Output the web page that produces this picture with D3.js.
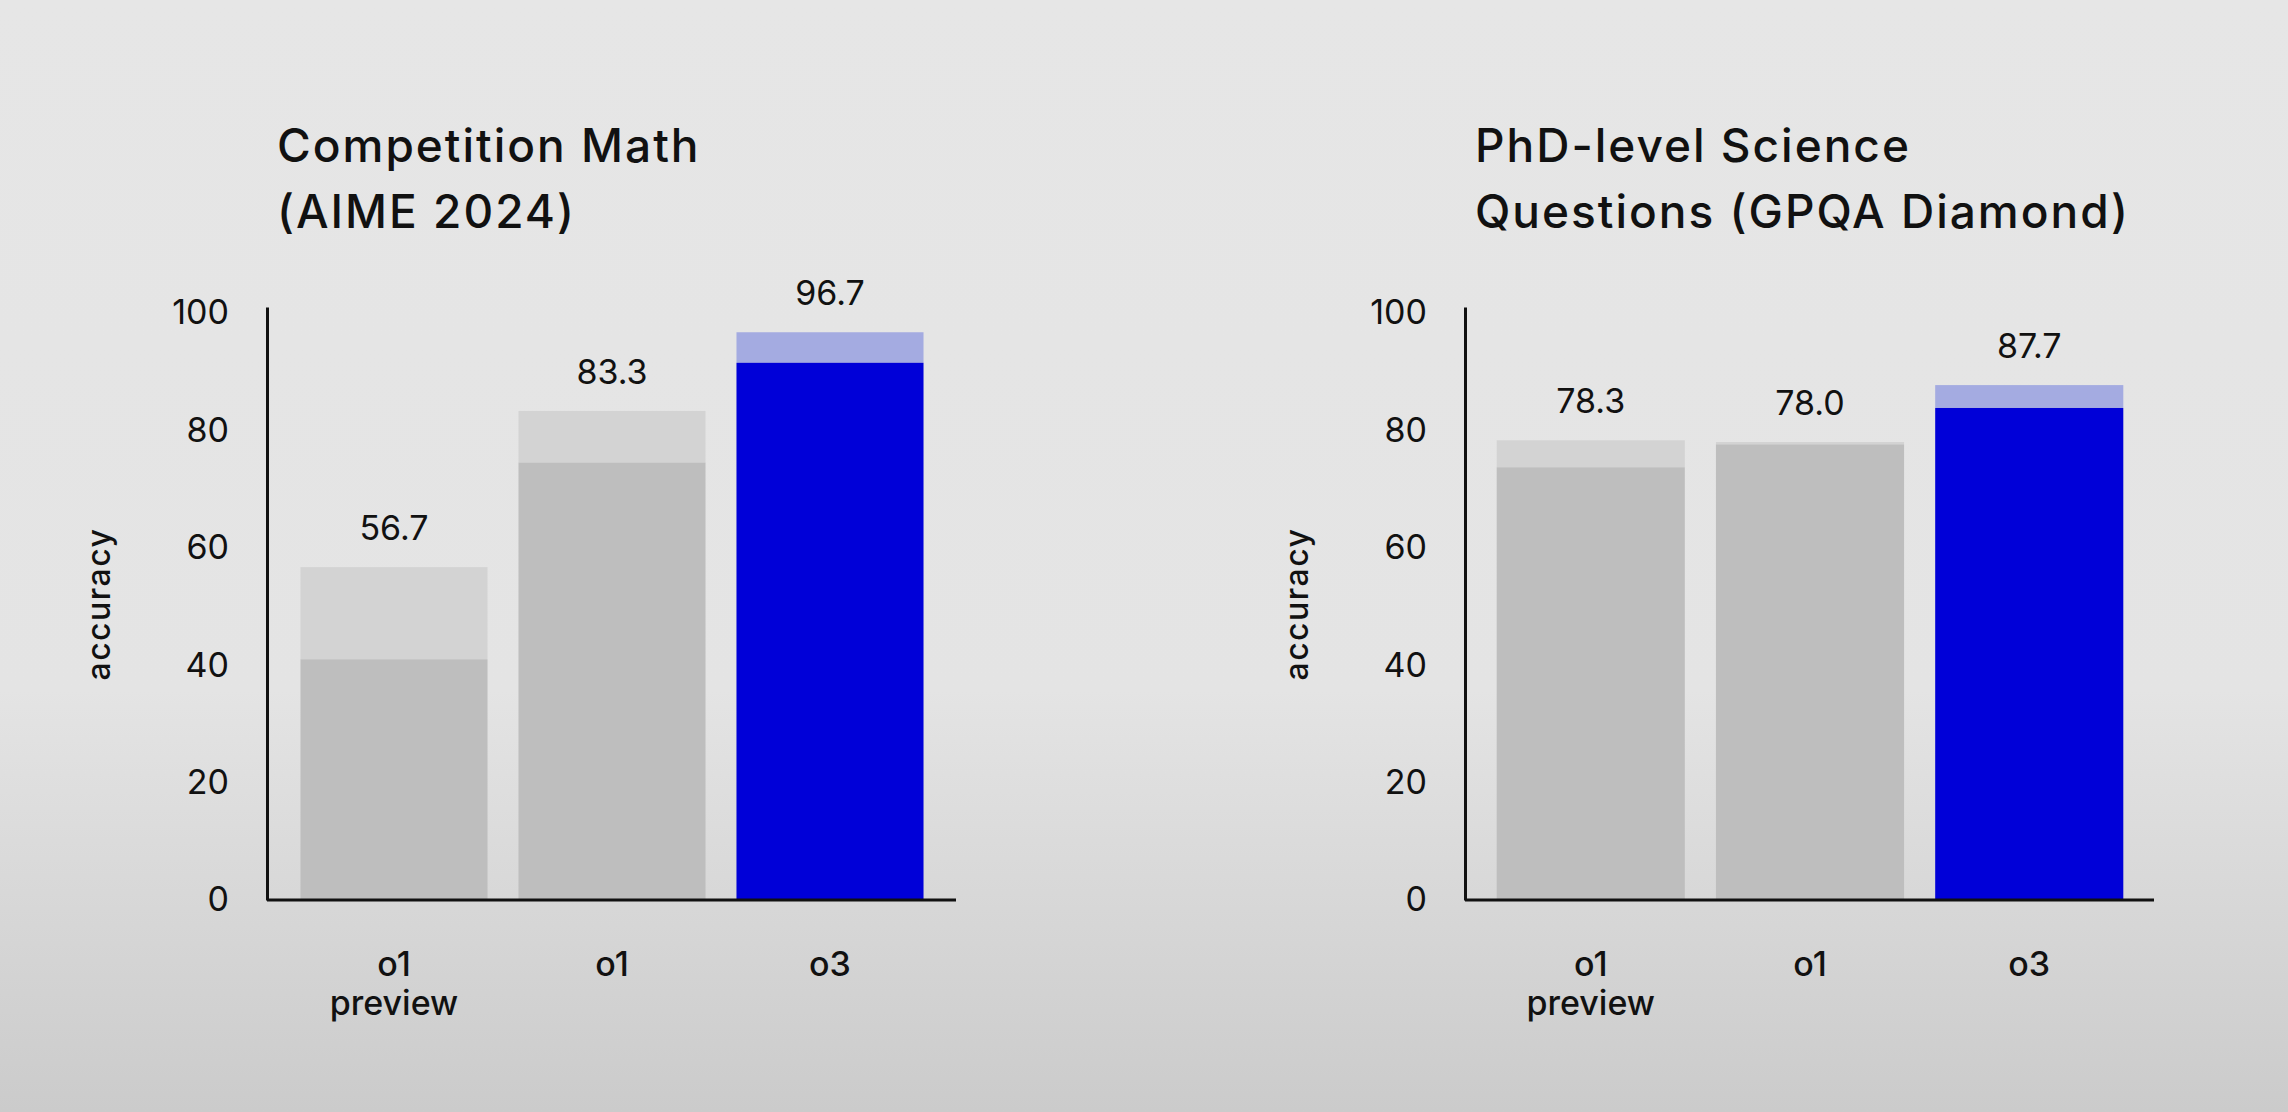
<!DOCTYPE html>
<html>
<head>
<meta charset="utf-8">
<script src="https://cdn.jsdelivr.net/npm/d3@7"></script>
<style>
  body { margin: 0; background: #e6e6e6; }
  svg { display: block; }
  text { font-family: Inter, "Open Sans", sans-serif; fill: #111; }
</style>
</head>
<body>
<svg id="chart" width="2288" height="1112"></svg>
<script>
// values
var models = ["o1 preview", "o1", "o3"];
var mathTotal = [56.7, 83.3, 96.7];   // light part (labelled)
var mathBase  = [41.0, 74.5, 91.5];   // solid part
var sciTotal  = [78.3, 78.0, 87.7];
var sciBase   = [73.7, 77.6, 83.8];
var yTicks = [0, 20, 40, 60, 80, 100];

var W = 2288, H = 1112;
var svg = d3.select("#chart");

// background with the slight darkening towards the bottom
var grad = svg.append("defs").append("linearGradient")
  .attr("id", "bg").attr("x1", 0).attr("y1", 0).attr("x2", 0).attr("y2", 1);
grad.append("stop").attr("offset", "0%").attr("stop-color", "#e6e6e6");
grad.append("stop").attr("offset", "62%").attr("stop-color", "#e4e4e4");
grad.append("stop").attr("offset", "100%").attr("stop-color", "#cbcbcb");
svg.append("rect").attr("width", W).attr("height", H).attr("fill", "url(#bg)");

var panels = [
  { left: 267, pad: 0.149, title: ["Competition Math", "(AIME 2024)"], total: mathTotal, base: mathBase },
  { left: 1465, pad: 0.14, title: ["PhD-level Science", "Questions (GPQA Diamond)"], total: sciTotal, base: sciBase }
];

var y = d3.scaleLinear().domain([0, 101]).range([900, 307]);

panels.forEach(function(p) {
  var g = svg.append("g");

  var x = d3.scaleBand()
    .domain(models)
    .range([p.left + 1, p.left + 689])
    .paddingInner(0.142)
    .paddingOuter(p.pad);

  // title
  g.append("text")
    .attr("x", p.left + 10)
    .attr("y", 162)
    .style("font-size", "46px")
    .style("font-weight", 500)
    .style("letter-spacing", "2px")
    .selectAll("tspan")
    .data(p.title)
    .enter()
    .append("tspan")
      .attr("x", p.left + 10)
      .attr("dy", function(d, i){ return i ? 66 : 0 })
      .text(function(d){ return d });

  var rows = models.map(function(m, i) {
    return { model: m, total: p.total[i], base: p.base[i], top: m === "o3" };
  });

  // lighter part on top of the solid part
  g.selectAll(".upper")
    .data(rows)
    .enter()
    .append("rect")
      .attr("x", function(d){ return x(d.model) })
      .attr("width", x.bandwidth())
      .attr("y", function(d){ return y(d.total) })
      .attr("height", function(d){ return y(d.base) - y(d.total) })
      .attr("fill", function(d){ return d.top ? "#a4abe1" : "#d3d3d3" });

  g.selectAll(".lower")
    .data(rows)
    .enter()
    .append("rect")
      .attr("x", function(d){ return x(d.model) })
      .attr("width", x.bandwidth())
      .attr("y", function(d){ return y(d.base) })
      .attr("height", function(d){ return y(0) - y(d.base) })
      .attr("fill", function(d){ return d.top ? "#0000d8" : "#bebebe" });

  // value labels
  g.selectAll(".val")
    .data(rows)
    .enter()
    .append("text")
      .attr("x", function(d){ return x(d.model) + x.bandwidth() / 2 })
      .attr("y", function(d){ return y(d.total) - 27 })
      .attr("text-anchor", "middle")
      .style("font-size", "34px")
      .text(function(d){ return d.total.toFixed(1) });

  // y axis
  var ya = g.append("g")
    .attr("transform", "translate(" + p.left + ",0)")
    .call(d3.axisLeft(y).tickValues(yTicks).tickSize(0).tickPadding(38));
  ya.select(".domain").attr("stroke", "#111").attr("stroke-width", 3);
  ya.selectAll("text").style("font-size", "34px").attr("fill", "#111")
    .style("font-family", "Inter, sans-serif");

  // x axis
  var xa = g.append("g")
    .attr("transform", "translate(0," + y(0) + ")")
    .call(d3.axisBottom(x).tickSize(0).tickSizeOuter(0).tickPadding(0));
  xa.select(".domain").attr("stroke", "#111").attr("stroke-width", 3)
    .attr("d", "M" + p.left + ",0H" + (p.left + 689));
  xa.selectAll("text")
    .style("font-size", "34px")
    .style("font-weight", 500)
    .style("font-family", "Inter, sans-serif")
    .attr("fill", "#111")
    .attr("y", 0).attr("dy", null)
    .each(function(d) {
      var t = d3.select(this).text("");
      d.split(" ").forEach(function(w, i) {
        t.append("tspan").attr("x", 0).attr("y", 76 + i * 39).text(w);
      });
    });

  // axis title
  g.append("text")
    .attr("transform", "translate(" + (p.left - 157) + ",604) rotate(-90)")
    .attr("text-anchor", "middle")
    .style("font-size", "32px")
    .style("font-weight", 500)
    .style("letter-spacing", "1.5px")
    .text("accuracy");
});
</script>
</body>
</html>
